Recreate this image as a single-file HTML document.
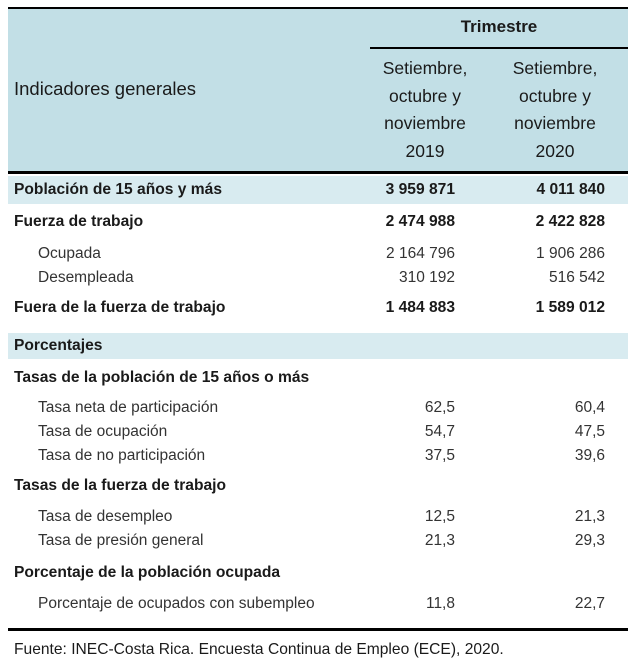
<!DOCTYPE html>
<html><head><meta charset="utf-8"><style>
body{margin:0;width:634px;height:665px;background:#fff;position:relative;font-family:"Liberation Sans Narrow","Liberation Sans",sans-serif;color:#1a1a1a;overflow:hidden}
div{position:absolute;white-space:nowrap}
.b{font-weight:bold;font-size:15.6px}
.n{font-size:15.5px;color:#333}
.r1{right:179px;text-align:right}
.r2{right:29px;text-align:right}
.t{transform:translateY(-50%)}
</style></head><body>
<div style="left:8px;top:7px;width:620px;height:2px;background:#000"></div>
<div style="left:8px;top:9px;width:620px;height:162px;background:#c2dfe6"></div>
<div style="left:370px;top:47px;width:258px;height:2px;background:#000"></div>
<div style="left:8px;top:171px;width:620px;height:3px;background:#000"></div>
<div style="left:8px;top:176px;width:620px;height:28px;background:#d8ebf0"></div>
<div style="left:8px;top:333px;width:620px;height:26px;background:#d8ebf0"></div>
<div style="left:8px;top:628px;width:620px;height:3px;background:#000"></div>

<div class="b t" style="left:456px;top:27px;width:86px;text-align:center;font-size:17px">Trimestre</div>
<div class="n t" style="left:14px;top:89px;font-size:18.5px;color:#1a1a1a">Indicadores generales</div>
<div class="n" style="left:370px;top:55px;width:110px;text-align:center;line-height:27.5px;font-size:17.5px;color:#1a1a1a">Setiembre,<br>octubre y<br>noviembre<br>2019</div>
<div class="n" style="left:500px;top:55px;width:110px;text-align:center;line-height:27.5px;font-size:17.5px;color:#1a1a1a">Setiembre,<br>octubre y<br>noviembre<br>2020</div>

<div class="b t" style="left:14px;top:190px">Población de 15 años y más</div>
<div class="b t r1" style="top:190px">3 959 871</div><div class="b t r2" style="top:190px">4 011 840</div>
<div class="b t" style="left:14px;top:222px">Fuerza de trabajo</div>
<div class="b t r1" style="top:222px">2 474 988</div><div class="b t r2" style="top:222px">2 422 828</div>
<div class="n t" style="left:38px;top:254px">Ocupada</div>
<div class="n t r1" style="top:254px">2 164 796</div><div class="n t r2" style="top:254px">1 906 286</div>
<div class="n t" style="left:38px;top:278px">Desempleada</div>
<div class="n t r1" style="top:278px">310 192</div><div class="n t r2" style="top:278px">516 542</div>
<div class="b t" style="left:14px;top:308px">Fuera de la fuerza de trabajo</div>
<div class="b t r1" style="top:308px">1 484 883</div><div class="b t r2" style="top:308px">1 589 012</div>
<div class="b t" style="left:14px;top:346px">Porcentajes</div>
<div class="b t" style="left:14px;top:378px">Tasas de la población de 15 años o más</div>
<div class="n t" style="left:38px;top:408px">Tasa neta de participación</div>
<div class="n t r1" style="top:408px">62,5</div><div class="n t r2" style="top:408px">60,4</div>
<div class="n t" style="left:38px;top:432px">Tasa de ocupación</div>
<div class="n t r1" style="top:432px">54,7</div><div class="n t r2" style="top:432px">47,5</div>
<div class="n t" style="left:38px;top:456px">Tasa de no participación</div>
<div class="n t r1" style="top:456px">37,5</div><div class="n t r2" style="top:456px">39,6</div>
<div class="b t" style="left:14px;top:486px">Tasas de la fuerza de trabajo</div>
<div class="n t" style="left:38px;top:517px">Tasa de desempleo</div>
<div class="n t r1" style="top:517px">12,5</div><div class="n t r2" style="top:517px">21,3</div>
<div class="n t" style="left:38px;top:541px">Tasa de presión general</div>
<div class="n t r1" style="top:541px">21,3</div><div class="n t r2" style="top:541px">29,3</div>
<div class="b t" style="left:14px;top:573px">Porcentaje de la población ocupada</div>
<div class="n t" style="left:38px;top:604px">Porcentaje de ocupados con subempleo</div>
<div class="n t r1" style="top:604px">11,8</div><div class="n t r2" style="top:604px">22,7</div>
<div class="n t" style="left:14px;top:650px;color:#1a1a1a;font-size:15.6px">Fuente: INEC-Costa Rica. Encuesta Continua de Empleo (ECE), 2020.</div>
</body></html>
